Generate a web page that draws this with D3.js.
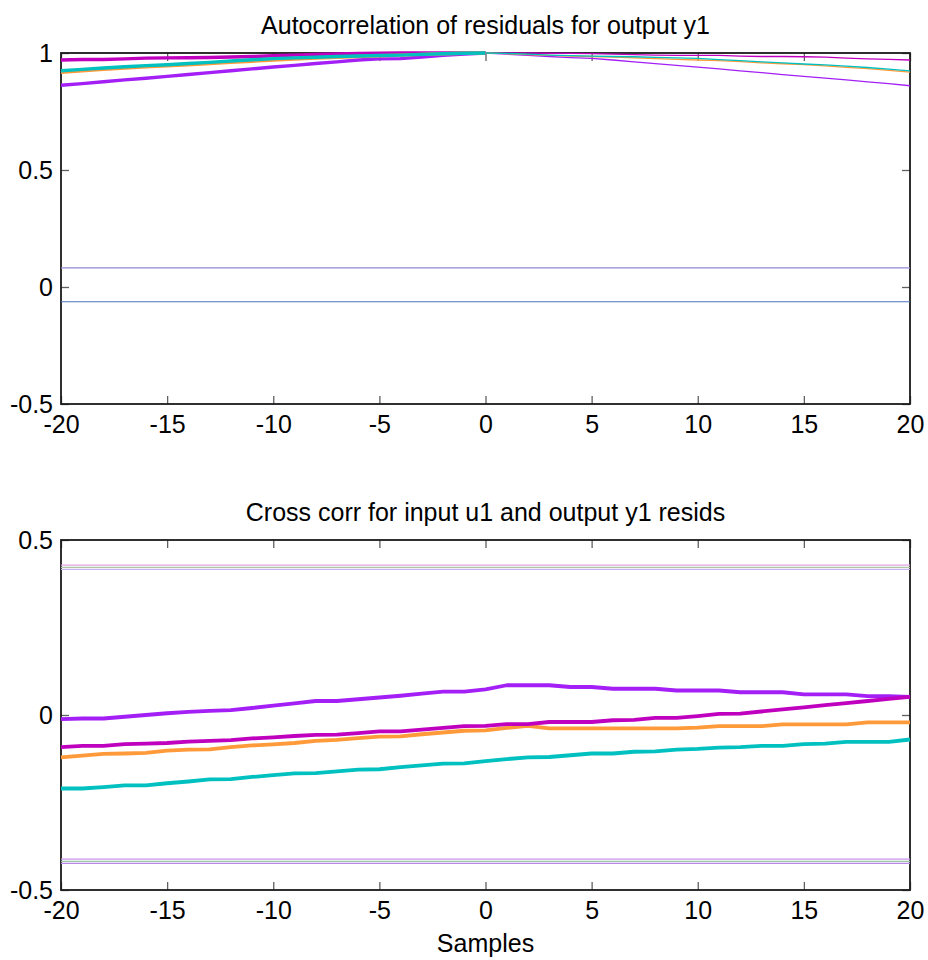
<!DOCTYPE html>
<html>
<head>
<meta charset="utf-8">
<script src="https://cdn.jsdelivr.net/npm/d3@7"></script>
<style>
  html, body { margin: 0; padding: 0; background: #fff; }
  svg { display: block; font-family: Arial, "Liberation Sans", sans-serif; }
</style>
</head>
<body>
<svg id="chart" width="928" height="960"></svg>
<script>
// ---------------- DATA ----------------
const lagsLeft  = [-20,-19,-18,-17,-16,-15,-14,-13,-12,-11,-10,-9,-8,-7,-6,-5,-4,-3,-2,-1,0];
const lagsRight = [0,1,2,3,4,5,6,7,8,9,10,11,12,13,14,15,16,17,18,19,20];
const lagsAll   = [-20,-19,-18,-17,-16,-15,-14,-13,-12,-11,-10,-9,-8,-7,-6,-5,-4,-3,-2,-1,0,1,2,3,4,5,6,7,8,9,10,11,12,13,14,15,16,17,18,19,20];

const seriesNames  = ["purple", "magenta", "orange", "teal"];
const seriesColors = ["#a31ff5", "#c000bf", "#ff9a3a", "#00c0c0"];

// Autocorrelation, negative lags (-20..0)
const acLeftPurple  = [0.862,0.869,0.877,0.885,0.892,0.900,0.908,0.916,0.924,0.932,0.940,0.947,0.955,0.962,0.970,0.975,0.976,0.983,0.990,0.995,1.000];
const acLeftMagenta = [0.970,0.972,0.972,0.975,0.978,0.979,0.980,0.981,0.983,0.985,0.988,0.991,0.994,0.996,0.998,0.999,1.000,1.000,1.000,1.000,1.000];
const acLeftOrange  = [0.918,0.924,0.930,0.936,0.941,0.945,0.950,0.955,0.960,0.965,0.970,0.974,0.978,0.982,0.985,0.988,0.991,0.994,0.997,0.999,1.000];
const acLeftTeal    = [0.924,0.930,0.936,0.941,0.946,0.950,0.955,0.960,0.966,0.971,0.976,0.979,0.982,0.985,0.987,0.989,0.991,0.994,0.997,0.999,1.000];
// Autocorrelation, positive lags (0..20)
const acRightPurple  = [1.000,0.995,0.990,0.985,0.980,0.977,0.970,0.962,0.955,0.947,0.940,0.932,0.924,0.916,0.908,0.900,0.893,0.885,0.877,0.869,0.860];
const acRightMagenta = [1.000,1.000,1.000,0.999,0.998,0.997,0.995,0.993,0.991,0.990,0.990,0.990,0.987,0.985,0.985,0.984,0.982,0.978,0.975,0.973,0.970];
const acRightOrange  = [1.000,0.997,0.993,0.990,0.987,0.985,0.982,0.979,0.976,0.973,0.970,0.967,0.963,0.958,0.954,0.950,0.945,0.939,0.933,0.926,0.918];
const acRightTeal    = [1.000,0.998,0.995,0.991,0.989,0.987,0.985,0.984,0.981,0.979,0.977,0.972,0.967,0.962,0.958,0.953,0.949,0.944,0.938,0.931,0.924];
// Autocorrelation confidence lines
const acConf = [0.082, -0.063];
const acConfColors = ["#8f88d4", "#4f72c4"];

// Cross correlation (-20..20)
const ccPurple  = [-0.012,-0.010,-0.010,-0.005,0.000,0.005,0.009,0.012,0.014,0.020,0.027,0.033,0.040,0.040,0.045,0.050,0.055,0.061,0.067,0.067,0.073,0.085,0.085,0.085,0.080,0.080,0.075,0.075,0.075,0.070,0.070,0.070,0.065,0.065,0.065,0.059,0.059,0.059,0.054,0.054,0.052];
const ccMagenta = [-0.092,-0.088,-0.088,-0.083,-0.082,-0.080,-0.076,-0.074,-0.072,-0.067,-0.064,-0.060,-0.057,-0.056,-0.052,-0.047,-0.047,-0.042,-0.037,-0.032,-0.031,-0.026,-0.026,-0.020,-0.020,-0.020,-0.015,-0.014,-0.008,-0.008,-0.003,0.003,0.004,0.010,0.016,0.022,0.028,0.034,0.040,0.046,0.052];
const ccOrange  = [-0.121,-0.116,-0.111,-0.110,-0.108,-0.102,-0.099,-0.098,-0.092,-0.087,-0.084,-0.080,-0.074,-0.071,-0.066,-0.062,-0.061,-0.055,-0.050,-0.045,-0.044,-0.037,-0.031,-0.038,-0.038,-0.038,-0.038,-0.038,-0.038,-0.038,-0.036,-0.032,-0.032,-0.032,-0.027,-0.027,-0.027,-0.027,-0.021,-0.021,-0.021];
const ccTeal    = [-0.210,-0.210,-0.206,-0.201,-0.201,-0.195,-0.190,-0.184,-0.183,-0.177,-0.172,-0.167,-0.166,-0.161,-0.156,-0.155,-0.149,-0.144,-0.139,-0.138,-0.132,-0.126,-0.121,-0.120,-0.115,-0.110,-0.110,-0.105,-0.104,-0.099,-0.097,-0.093,-0.092,-0.088,-0.088,-0.083,-0.082,-0.077,-0.077,-0.077,-0.070];
// Cross correlation confidence lines
const ccConf = [0.428, 0.422, 0.416, -0.412, -0.418, -0.424];
const ccConfColors = ["#e4a4e4", "#b0c8a8", "#c8b4f0", "#c896ec", "#9cc4a8", "#b888e8"];

const xTicks = [-20,-15,-10,-5,0,5,10,15,20];
const acYTicks = [-0.5, 0, 0.5, 1];
const ccYTicks = [-0.5, 0, 0.5];

const titles = ["Autocorrelation of residuals for output y1", "Cross corr for input u1 and output y1 resids"];
const xLabel = "Samples";

// ---------------- DRAW ----------------
const svg = d3.select("#chart");
const fmt = d => String(d);   // plain hyphen-minus, like the reference
const FONT = "Arial, 'Liberation Sans', sans-serif";

function panel(top, bottom, yDomain, yTicks, title) {
  const left = 61, right = 910;
  const x = d3.scaleLinear().domain([-20, 20]).range([left, right]);
  const y = d3.scaleLinear().domain(yDomain).range([bottom, top]);
  const g = svg.append("g");

  const tickLen = 8;
  const tc = "#606060";
  g.append("g").attr("transform", `translate(0,${bottom})`)
    .call(d3.axisBottom(x).tickValues(xTicks).tickSizeInner(-tickLen).tickSizeOuter(0).tickPadding(11).tickFormat(fmt))
    .call(a => a.select(".domain").remove())
    .call(a => a.selectAll("line").attr("stroke", tc).attr("stroke-width", 1.3))
    .call(a => a.selectAll("text").attr("font-size", 25).attr("fill", "#000").attr("font-family", FONT));
  g.append("g").attr("transform", `translate(0,${top})`)
    .call(d3.axisTop(x).tickValues(xTicks).tickSizeInner(-tickLen).tickSizeOuter(0).tickFormat(""))
    .call(a => a.select(".domain").remove())
    .call(a => a.selectAll("line").attr("stroke", tc).attr("stroke-width", 1.3));
  g.append("g").attr("transform", `translate(${left},0)`)
    .call(d3.axisLeft(y).tickValues(yTicks).tickSizeInner(-tickLen).tickSizeOuter(0).tickPadding(8).tickFormat(fmt))
    .call(a => a.select(".domain").remove())
    .call(a => a.selectAll("line").attr("stroke", tc).attr("stroke-width", 1.3))
    .call(a => a.selectAll("text").attr("font-size", 25).attr("fill", "#000").attr("font-family", FONT));
  g.append("g").attr("transform", `translate(${right},0)`)
    .call(d3.axisRight(y).tickValues(yTicks).tickSizeInner(-tickLen).tickSizeOuter(0).tickFormat(""))
    .call(a => a.select(".domain").remove())
    .call(a => a.selectAll("line").attr("stroke", tc).attr("stroke-width", 1.3));

  g.append("rect").attr("x", left).attr("y", top).attr("width", right - left).attr("height", bottom - top)
    .attr("fill", "none").attr("stroke", "#1a1a1a").attr("stroke-width", 1.8);

  g.append("text").attr("x", (left + right) / 2).attr("y", top - 19)
    .attr("text-anchor", "middle").attr("font-size", 25).attr("fill", "#000").text(title);

  return { g, x, y };
}

// ----- Top panel: autocorrelation -----
const p1 = panel(53, 404, [-0.5, 1], acYTicks, titles[0]);
const line1 = d3.line().x(d => p1.x(d[0])).y(d => p1.y(d[1]));

acConf.forEach((v, i) => {
  p1.g.append("line").attr("x1", p1.x(-20)).attr("x2", p1.x(20))
    .attr("y1", p1.y(v)).attr("y2", p1.y(v))
    .attr("stroke", acConfColors[i]).attr("stroke-width", 1.2);
});

const acLeft  = [acLeftPurple, acLeftMagenta, acLeftOrange, acLeftTeal];
const acRight = [acRightPurple, acRightMagenta, acRightOrange, acRightTeal];
acRight.forEach((vals, i) => {
  p1.g.append("path").datum(lagsRight.map((l, k) => [l, vals[k]]))
    .attr("d", line1).attr("fill", "none")
    .attr("stroke", seriesColors[i]).attr("stroke-width", 1.3).attr("stroke-linejoin", "round");
});
acLeft.forEach((vals, i) => {
  p1.g.append("path").datum(lagsLeft.map((l, k) => [l, vals[k]]))
    .attr("d", line1).attr("fill", "none")
    .attr("stroke", seriesColors[i]).attr("stroke-width", 3.4).attr("stroke-linejoin", "round");
});

// ----- Bottom panel: cross correlation -----
const p2 = panel(540, 890, [-0.5, 0.5], ccYTicks, titles[1]);
const line2 = d3.line().x(d => p2.x(d[0])).y(d => p2.y(d[1]));

ccConf.forEach((v, i) => {
  p2.g.append("line").attr("x1", p2.x(-20)).attr("x2", p2.x(20))
    .attr("y1", p2.y(v)).attr("y2", p2.y(v))
    .attr("stroke", ccConfColors[i]).attr("stroke-width", 1.2);
});

const cc = [ccPurple, ccOrange, ccTeal, ccMagenta];
const ccCol = [seriesColors[0], seriesColors[2], seriesColors[3], seriesColors[1]];
cc.forEach((vals, i) => {
  p2.g.append("path").datum(lagsAll.map((l, k) => [l, vals[k]]))
    .attr("d", line2).attr("fill", "none")
    .attr("stroke", ccCol[i]).attr("stroke-width", 3.8).attr("stroke-linejoin", "round");
});

svg.append("text").attr("x", (61 + 910) / 2).attr("y", 952)
  .attr("text-anchor", "middle").attr("font-size", 25).attr("fill", "#000").text(xLabel);
</script>
</body>
</html>
